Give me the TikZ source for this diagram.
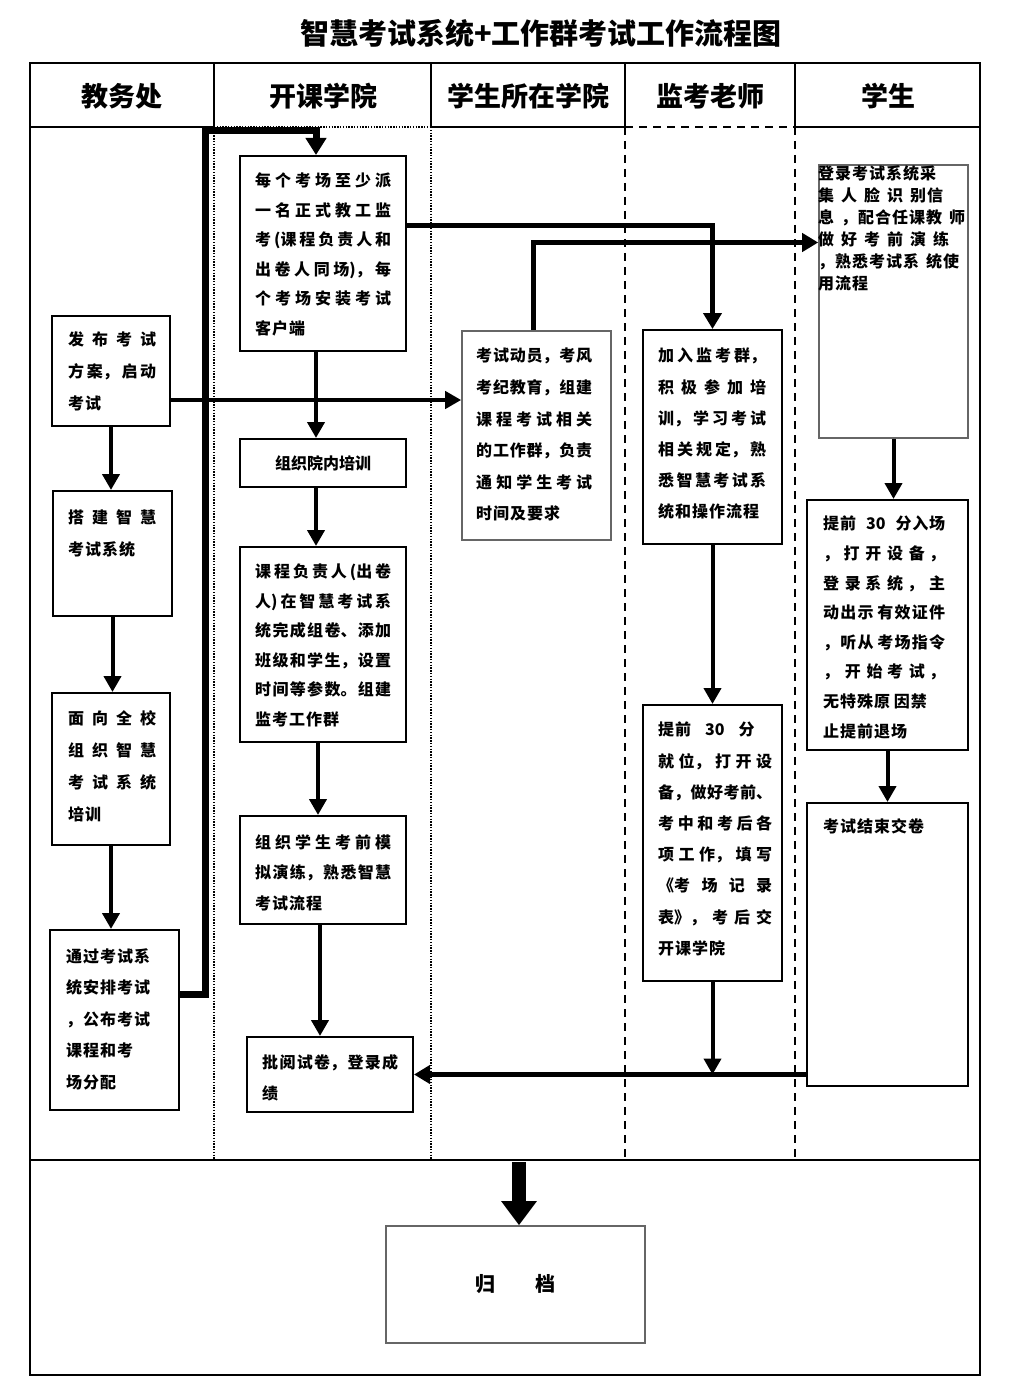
\documentclass[tikz,border=0pt]{standalone}
\usepackage{fontspec}
\setmainfont{Noto Sans CJK SC}[BoldFont={Noto Sans CJK SC Black}]
\usetikzlibrary{arrows.meta}
\XeTeXlinebreaklocale "zh"
\XeTeXlinebreakskip=1pt plus 12pt minus 1pt
\setlength{\parindent}{0pt}
\tikzset{
  box/.style={draw,line width=2pt,inner sep=0pt},
  greybox/.style={draw=black!60,line width=1.6pt,inner sep=0pt},
  txt/.style={anchor=north west,inner sep=0pt,align=justify,font=\bfseries\fontsize{16}{#1}\selectfont},
  txt/.default=31,
  head/.style={font=\bfseries\fontsize{27}{30}\selectfont},
  sepdot/.style={line width=1.4pt,dash pattern=on 1.4pt off 1.4pt},
  sepdash/.style={line width=1.5pt,dash pattern=on 8pt off 6pt},
  arr/.style={line width=4pt,-{Triangle[width=17pt,length=16pt]}},
  midarr/.style={line width=5pt,-{Triangle[width=18pt,length=16pt]}},
  fatarr/.style={line width=7pt,-{Triangle[width=20pt,length=17pt]}},
  bigarr/.style={line width=14pt,-{Triangle[width=34pt,length=24pt]}}
}
\begin{document}
\begin{tikzpicture}[x=1pt,y=-1pt,line join=miter]
  \useasboundingbox (0,0) rectangle (1026,1380);
  \node[font=\bfseries\fontsize{29}{30}\selectfont] (title) at (541,33) {智慧考试系统+工作群考试工作流程图};
  \draw[line width=2pt] (30,63) rectangle (980,1375);
  \draw[line width=2pt] (30,127) -- (214,127) (431,127) -- (625,127) (795,127) -- (980,127);
  \draw[sepdot] (214,127) -- (431,127);
  \draw[sepdash] (625,127) -- (795,127);
  \foreach \x in {214,431,625,795} \draw[line width=1.5pt] (\x,63) -- (\x,127);
  \draw[sepdot] (214,127) -- (214,1160) (431,127) -- (431,1160);
  \draw[sepdash] (625,127) -- (625,1160) (795,127) -- (795,1160);
  \draw[line width=2pt] (30,1160) -- (980,1160);
  \node[head] (h1) at (122,96) {教务处};
  \node[head] (h2) at (323,96) {开课学院};
  \node[head] (h3) at (528,96) {学生所在学院};
  \node[head] (h4) at (710,96) {监考老师};
  \node[head] (h5) at (888,96) {学生};

  \node[box,minimum width=118pt,minimum height=110pt] (a1) at (111,371) {};
  \node[box,minimum width=119pt,minimum height=125pt] (a2) at (112.5,553.5) {};
  \node[box,minimum width=118pt,minimum height=152pt] (a3) at (111,769) {};
  \node[box,minimum width=129pt,minimum height=180pt] (a4) at (114.5,1020) {};
  \node[box,minimum width=166pt,minimum height=195pt] (b1) at (323,253.5) {};
  \node[box,minimum width=166pt,minimum height=48pt,font=\bfseries\fontsize{16}{20}\selectfont] (b2) at (323,463) {组织院内培训};
  \node[box,minimum width=166pt,minimum height=195pt] (b3) at (323,644.5) {};
  \node[box,minimum width=166pt,minimum height=108pt] (b4) at (323,870) {};
  \node[box,minimum width=166pt,minimum height=75pt] (b5) at (330,1074.5) {};
  \node[greybox,minimum width=149pt,minimum height=209pt] (c1) at (536.5,435.5) {};
  \node[box,minimum width=139pt,minimum height=214pt] (d1) at (712.5,437) {};
  \node[box,minimum width=139pt,minimum height=276pt] (d2) at (712.5,843) {};
  \node[greybox,minimum width=149pt,minimum height=273pt] (e1) at (893.5,301.5) {};
  \node[box,minimum width=161pt,minimum height=250pt] (e2) at (887.5,625) {};
  \node[box,minimum width=161pt,minimum height=283pt] (e3) at (887.5,944.5) {};
  \node[greybox,minimum width=259pt,minimum height=117pt,font=\bfseries\fontsize{20}{24}\selectfont] (f) at (515.5,1284.5) {归\quad\quad 档};

  \node[txt=32,text width=88pt] (a1t) at (68,331) {发布考试\linebreak 方案，启动\linebreak 考试};
  \node[txt=32,text width=88pt] (a2t) at (68,509) {搭建智慧\linebreak 考试系统};
  \node[txt=32,text width=88pt] (a3t) at (68,710) {面向全校\linebreak 组织智慧\linebreak 考试系统\linebreak 培训};
  \node[txt=31.5,text width=84pt] (a4t) at (66,948) {通过考试系\linebreak 统安排考试\linebreak ，公布考试\linebreak 课程和考\newline 场分配};
  \node[txt=29.5,text width=136pt] (b1t) at (255,173) {每个考场至少派\linebreak 一名正式教工监\linebreak 考(课程负责人和\linebreak 出卷人同场)，每\linebreak 个考场安装考试\linebreak 客户端};
  \node[txt=29.5,text width=136pt] (b3t) at (255,564) {课程负责人(出卷\linebreak 人)在智慧考试系\linebreak 统完成组卷、添加\linebreak 班级和学生，设置\linebreak 时间等参数。组建\linebreak 监考工作群};
  \node[txt=30.5,text width=136pt] (b4t) at (255,834) {组织学生考前模\linebreak 拟演练，熟悉智慧\linebreak 考试流程};
  \node[txt=31,text width=136pt] (b5t) at (262,1054) {批阅试卷，登录成\linebreak 绩};
  \node[txt=31.6,text width=116pt] (c1t) at (476,348) {考试动员，考风\linebreak 考纪教育，组建\linebreak 课程考试相关\linebreak 的工作群，负责\linebreak 通 知学生考试\linebreak 时间及要求};
  \node[txt=31.2,text width=108pt] (d1t) at (658,348) {加入监考群，\linebreak 积极参加培\linebreak 训，学习考试\linebreak 相关规定，熟\linebreak 悉智慧考试系\linebreak 统和操作流程};
  \node[txt=31.2,text width=114pt] (d2t) at (658,722) {{\spaceskip=14pt 提前 30 分}\newline 就位，打开设\linebreak 备，做好考前、\linebreak 考中和考后各\linebreak 项工作，填写\linebreak 《考场记录\linebreak 表》，考后交\linebreak 开课学院};
  \node[txt=22,text width=160pt,align=left] (e1t) at (818,165) {\spaceskip=7pt plus 2pt 登录考试系统采\\ 集 人 脸 识 别信\\ 息 ，配合任课教 师\\ 做 好 考 前 演 练\\ ，熟悉考试系 统使\\ 用流程};
  \node[txt=29.6,text width=122pt] (e2t) at (823,516) {{\spaceskip=10pt 提前 30 分入场}\newline ， 打开设备 ，\linebreak 登录 系统 ，主\linebreak 动出示 有效证件\linebreak ，听从 考场指令\linebreak ，开始 考试 ，\linebreak 无特殊原 因禁\newline 止提前退场};
  \node[txt=31,text width=140pt] (e3t) at (823,818) {考试结束交卷};

  \coordinate (t1) at (205,131);
  \coordinate (p1) at ([yshift=-29pt]a1.east);
  \coordinate (p2) at ([yshift=28pt]b1.east);
  \coordinate (p3) at ([xshift=-3pt]c1.north);
  \coordinate (p4) at ([yshift=59pt]e1.west);
  \coordinate (p5) at ([yshift=-130pt]e3.west);
  \coordinate (q1) at ([xshift=-7pt]b1.south);
  \coordinate (q2) at ([xshift=-7pt]b2.south);
  \coordinate (q3) at ([xshift=-5pt]b3.south);
  \coordinate (q4) at ([xshift=-3pt]b4.south);
  \coordinate (s1) at (519,1162);

  \draw[arr] (a1.south) -- (a1.south |- a2.north);
  \draw[arr] (a2.south) -- (a2.south |- a3.north);
  \draw[arr] (a3.south) -- (a3.south |- a4.north);
  \draw[fatarr] ([yshift=26pt]a4.east) -| (t1) -| ([xshift=-7pt]b1.north);
  \draw[arr] (p1) -- (p1 -| c1.west);
  \draw[arr] (q1) -- (q1 |- b2.north);
  \draw[midarr] (p2) -| (d1.north);
  \draw[midarr] (p3) |- (p4);
  \draw[arr] (q2) -- (q2 |- b3.north);
  \draw[arr] (q3) -- (q3 |- b4.north);
  \draw[arr] (q4) -- (q4 |- b5.north);
  \draw[arr] (d1.south) -- (d1.south |- d2.north);
  \draw[arr] (d2.south) -- (d2.south |- b5.east);
  \draw[midarr] (p5) -- (b5.east);
  \draw[arr] (e1.south) -- (e1.south |- e2.north);
  \draw[arr] (e2.south) -- (e2.south |- e3.north);
  \draw[bigarr] (s1) -- (s1 |- f.north);
\end{tikzpicture}
\end{document}
